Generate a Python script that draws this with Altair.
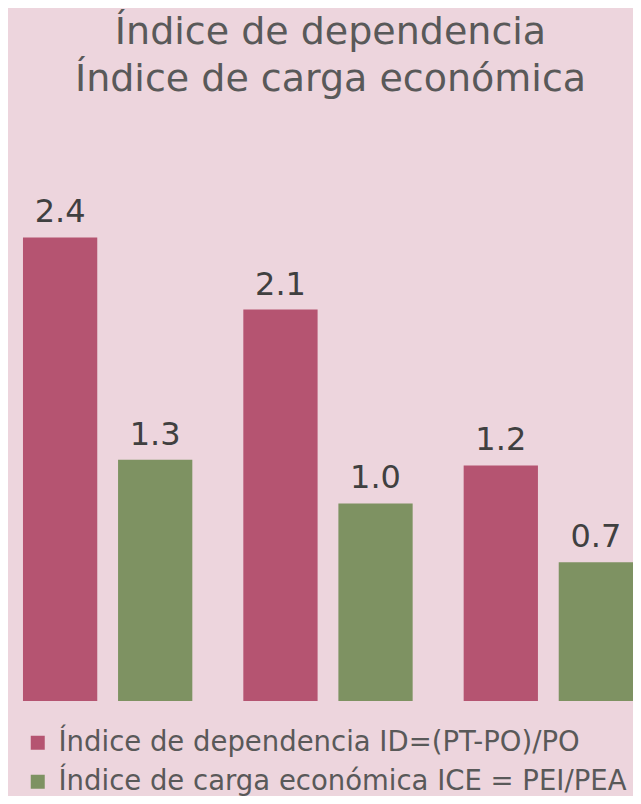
import altair as alt
import pandas as pd

grupos = ["Grupo 1", "Grupo 2", "Grupo 3"]
series = ["Índice de dependencia ID=(PT-PO)/PO", "Índice de carga económica ICE = PEI/PEA"]
dependencia = [2.44, 2.06, 1.24]
carga = [1.27, 1.04, 0.73]
colores = ["#B55471", "#7E9262"]
titulo = ["Índice de dependencia", "Índice de carga económica"]

rows = []
for g, d, c in zip(grupos, dependencia, carga):
    rows.append({"grupo": g, "serie": series[0], "valor": d})
    rows.append({"grupo": g, "serie": series[1], "valor": c})
df = pd.DataFrame(rows)

FONT = "DejaVu Sans"

x = alt.X("grupo:N", sort=grupos, axis=None,
          scale=alt.Scale(paddingInner=0.2315, paddingOuter=0.034, align=1.0))
xo = alt.XOffset("serie:N", sort=series,
                 scale=alt.Scale(paddingInner=0.21875, paddingOuter=0))
y = alt.Y("valor:Q", axis=None, scale=alt.Scale(domain=[0, 3], nice=False, zero=True))

base = alt.Chart(df)

bars = base.mark_bar().encode(
    x=x, xOffset=xo, y=y,
    color=alt.Color(
        "serie:N", sort=series,
        scale=alt.Scale(domain=series, range=colores),
        legend=alt.Legend(
            title=None, orient="none", legendX=16, legendY=598,
            symbolType="square", symbolSize=196, symbolStrokeWidth=0,
            labelFontSize=27.5, labelFont=FONT, labelColor="#595959",
            labelLimit=800, rowPadding=10, labelOffset=7, direction="vertical",
        ),
    ),
)

labels = base.mark_text(
    dy=-15, baseline="alphabetic", align="center",
    fontSize=32, font=FONT, color="#404040",
).encode(x=x, xOffset=xo, y=y, text=alt.Text("valor:Q", format=".1f"))

chart = (
    alt.layer(bars, labels)
    .properties(
        width=625, height=570,
        autosize=alt.AutoSizeParams(type="none"),
        padding={"top": 123, "bottom": 95, "left": 0, "right": 0},
        title=alt.TitleParams(
            titulo, fontSize=38, font=FONT, fontWeight="normal", color="#595959",
            lineHeight=47, anchor="middle", offset=32, dx=10,
        ),
    )
    .configure(background="#EDD5DD")
    .configure_view(stroke=None)
)

chart.save("out.html", embed_options={"renderer": "svg", "actions": False})
